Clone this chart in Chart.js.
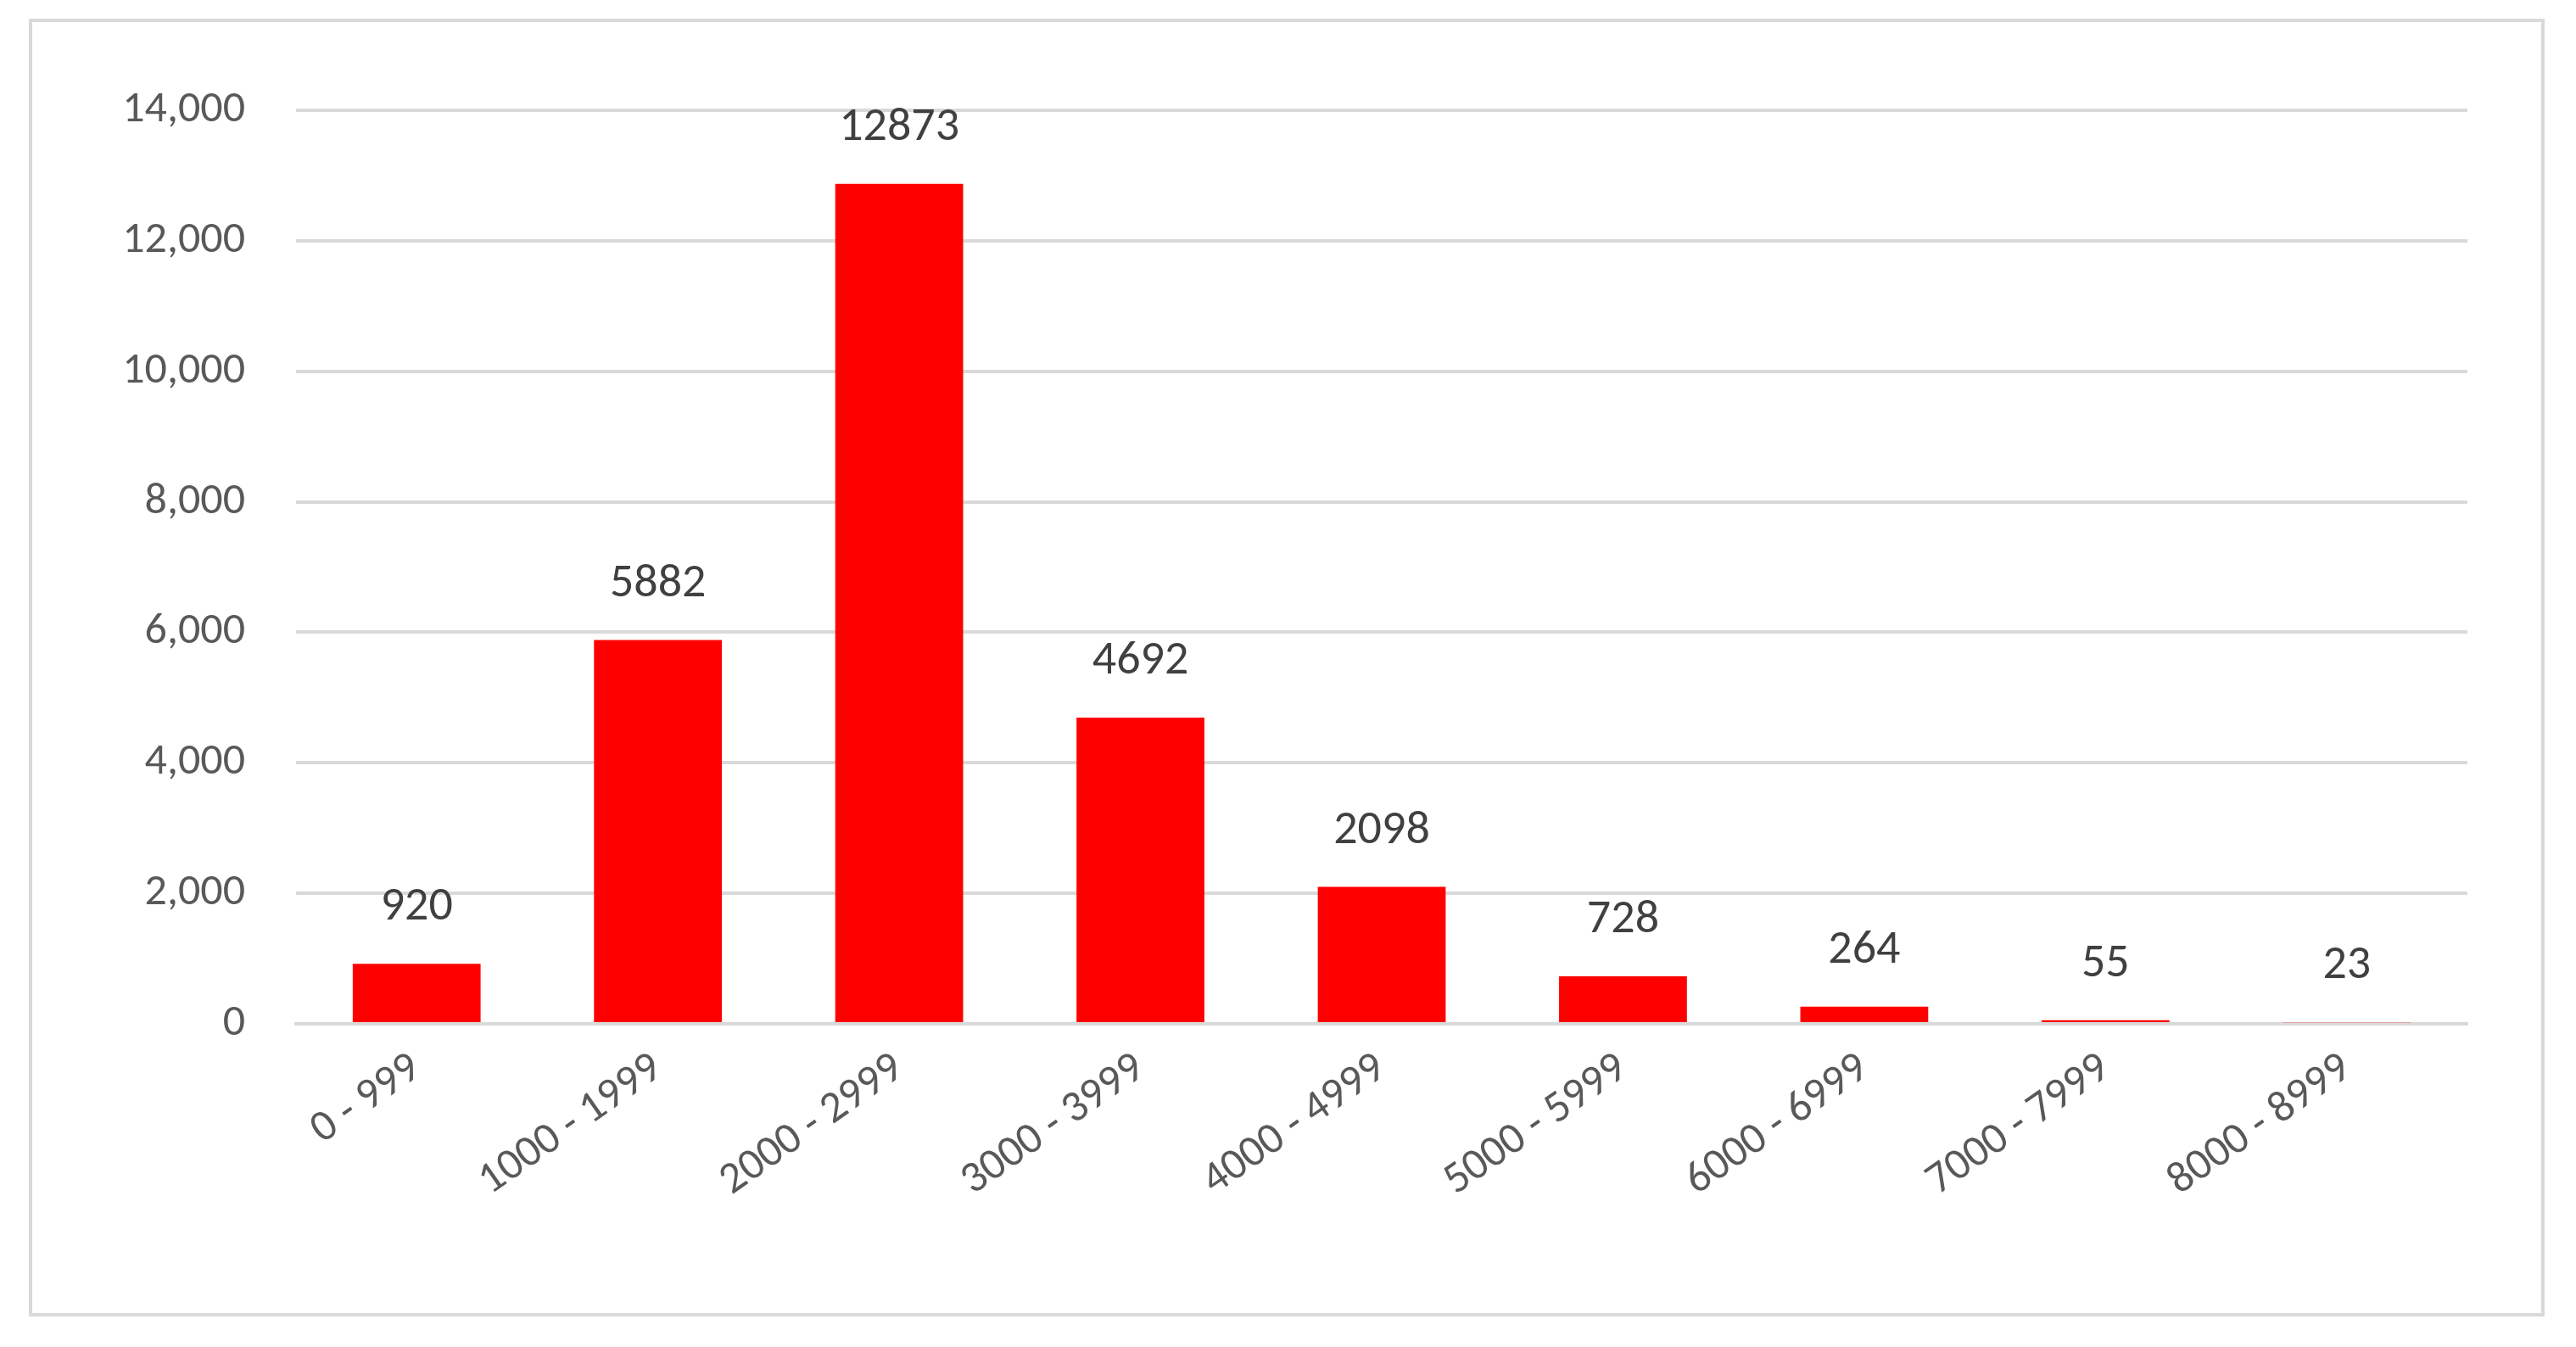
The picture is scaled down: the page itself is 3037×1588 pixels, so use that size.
<!DOCTYPE html>
<html><head><meta charset="utf-8">
<script src="https://cdn.jsdelivr.net/npm/chart.js@4/dist/chart.umd.min.js"></script>
<style>html,body{margin:0;padding:0;background:#fff}</style>
</head><body><canvas id="c" width="3037" height="1588" style="width:3037px;height:1588px;display:block"></canvas>
<script>
const categories = ["0 - 999","1000 - 1999","2000 - 2999","3000 - 3999","4000 - 4999","5000 - 5999","6000 - 6999","7000 - 7999","8000 - 8999"];
const counts = [920,5882,12873,4692,2098,728,264,55,23];
const yTicks = [0,2000,4000,6000,8000,10000,12000,14000];

const FONT = "Calibri, Carlito, 'Liberation Sans', 'Open Sans', sans-serif";
const deco = {
  id:'deco',
  beforeDraw(ch){const c=ch.ctx;c.save();c.fillStyle='#fff';c.fillRect(0,0,ch.width,ch.height);
    c.strokeStyle='#d9d9d9';c.lineWidth=4;c.strokeRect(36,24,2962,1526);c.restore();},
  afterDatasetsDraw(ch){const c=ch.ctx;c.save();c.fillStyle='#404040';c.font='56px '+FONT;
    c.textAlign='center';c.textBaseline='bottom';
    ch.getDatasetMeta(0).data.forEach((b,i)=>{c.fillText(String(counts[i]),b.x,b.y-38);});c.restore();}
};
new Chart(document.getElementById('c'),{
  type:'bar',
  data:{labels:categories,datasets:[{data:counts,backgroundColor:'#ff0000',borderWidth:0,categoryPercentage:1,barPercentage:0.53}]},
  options:{responsive:false,animation:false,devicePixelRatio:1,
    layout:{padding:{top:130,right:128,bottom:0,left:0}},
    plugins:{legend:{display:false},tooltip:{enabled:false}},
    scales:{
      x:{grid:{display:false},border:{color:'#d9d9d9',width:4},
        ticks:{color:'#595959',font:{size:52,family:FONT},minRotation:35,maxRotation:35,padding:14},
        afterFit(s){s.height=381;}},
      y:{min:0,max:14000,afterBuildTicks(s){s.ticks=yTicks.map(v=>({value:v}));},
        grid:{color:'#d9d9d9',lineWidth:4,drawTicks:false},border:{display:false},
        ticks:{color:'#595959',font:{size:52,family:FONT},padding:60},
        afterFit(s){s.width=349;}}
    }},
  plugins:[deco]
});
</script></body></html>
